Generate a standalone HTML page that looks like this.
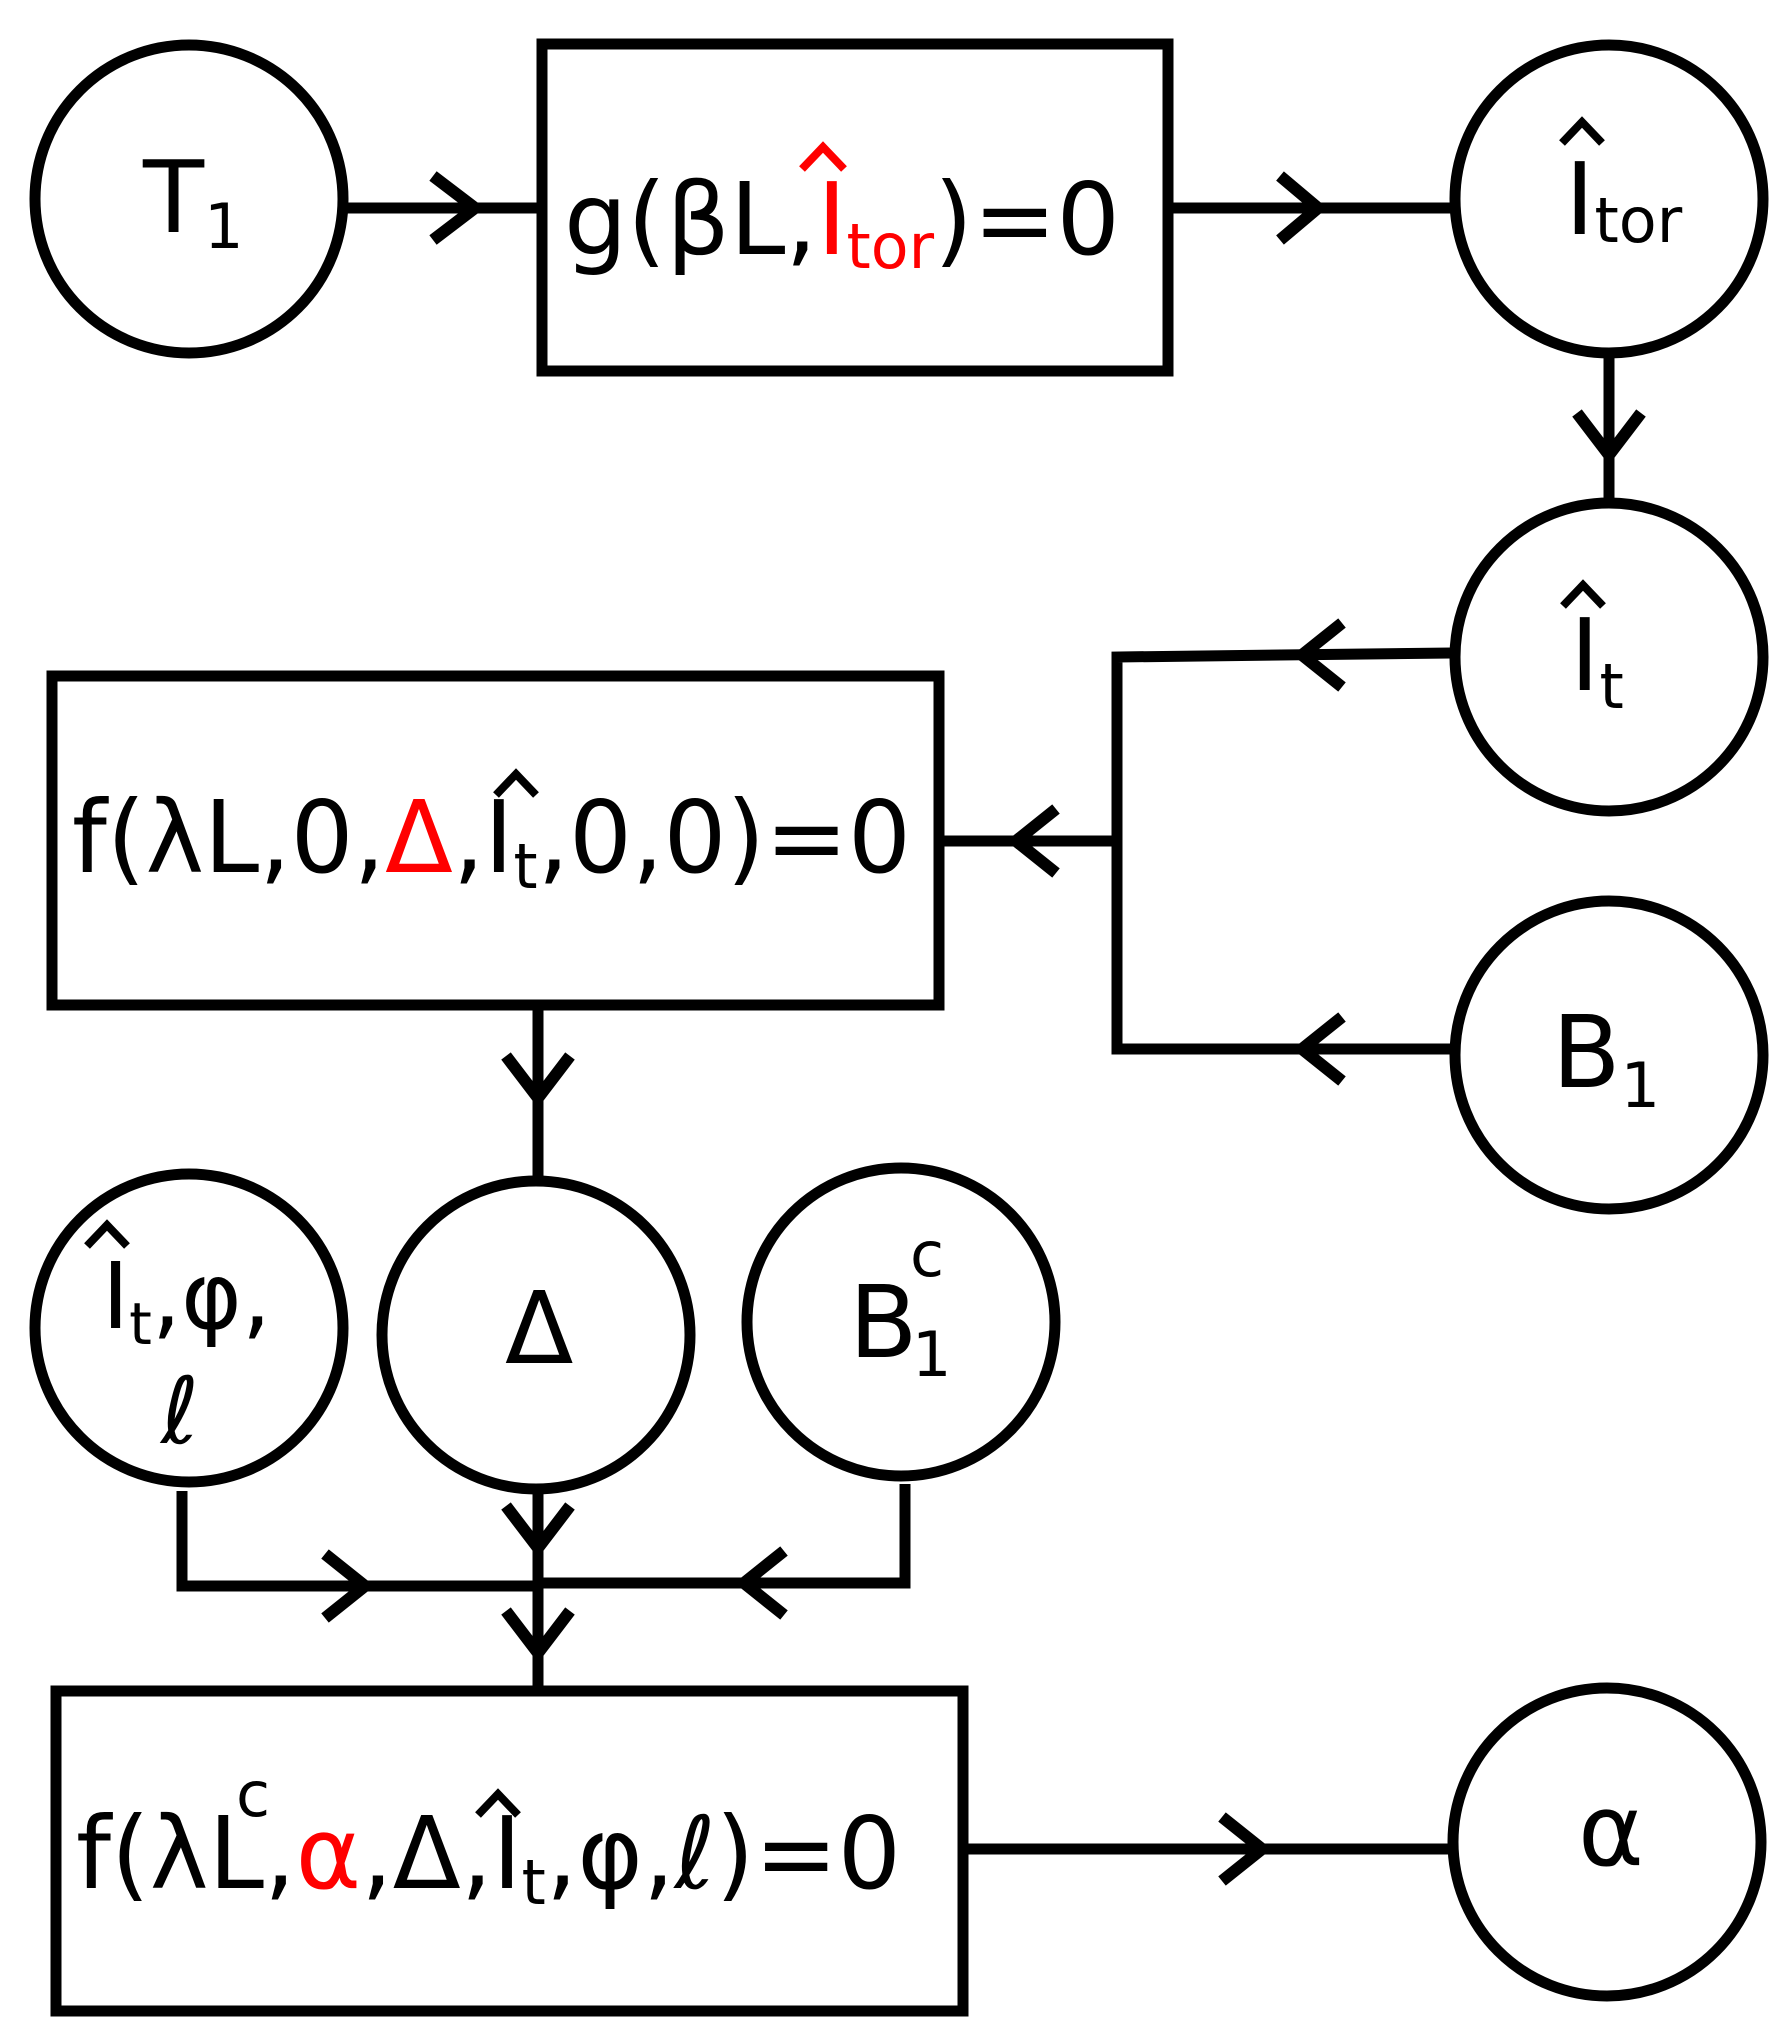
<!DOCTYPE html>
<html><head><meta charset="utf-8"><style>
html,body{margin:0;padding:0;background:#fff}
svg{display:block}
text{font-family:"DejaVu Sans","Liberation Sans",sans-serif;fill:#000}
</style></head><body>
<svg width="1784" height="2040" viewBox="0 0 1784 2040" xmlns="http://www.w3.org/2000/svg">
<g fill="none" stroke="#000" stroke-width="11">
<circle cx="189" cy="199" r="154"/>
<circle cx="1609" cy="199" r="154"/>
<circle cx="1609" cy="657" r="154"/>
<circle cx="1609" cy="1055" r="154"/>
<circle cx="189" cy="1328" r="154"/>
<circle cx="536" cy="1335" r="154"/>
<circle cx="901" cy="1322" r="154"/>
<circle cx="1607" cy="1842" r="154"/>
<rect x="542" y="44" width="626" height="327"/>
<rect x="52" y="676" width="887" height="329"/>
<rect x="56" y="1691" width="907" height="320"/>
<line x1="345" y1="208" x2="542" y2="208"/>
<line x1="1168" y1="208" x2="1452" y2="208"/>
<line x1="1609" y1="355" x2="1609" y2="499"/>
<polyline points="1452,653 1117,657 1117,1049 1452,1049"/>
<line x1="939" y1="841" x2="1117" y2="841"/>
<line x1="538" y1="1005" x2="538" y2="1178"/>
<polyline points="182,1491 182,1586 538,1586"/>
<polyline points="905,1484 905,1583 538,1583"/>
<line x1="538" y1="1491" x2="538" y2="1691"/>
<line x1="963" y1="1849" x2="1448" y2="1849"/>
</g>
<g fill="none" stroke="#000" stroke-width="12">
<polyline points="433,176 475,208 433,240"/>
<polyline points="1280,176 1318,208 1280,240"/>
<polyline points="1577,413 1609,455 1641,413"/>
<polyline points="1342,623 1302,655 1342,687"/>
<polyline points="1342,1017 1302,1049 1342,1081"/>
<polyline points="1056,809 1016,841 1056,873"/>
<polyline points="506,1056 538,1098 570,1056"/>
<polyline points="325,1554 365,1586 325,1618"/>
<polyline points="784,1551 744,1583 784,1615"/>
<polyline points="506,1506 538,1548 570,1506"/>
<polyline points="506,1611 538,1653 570,1611"/>
<polyline points="1222,1817 1262,1849 1222,1881"/>
</g>
<g fill="none" stroke-width="8">
<polyline points="802,169 823,147 844,169" stroke="#f00"/>
<polyline points="1562,143 1582,122 1602,143" stroke="#000"/>
<polyline points="1563,606 1583,585 1603,606" stroke="#000"/>
<polyline points="496,795 516,774 536,795" stroke="#000"/>
<polyline points="87,1246 107,1225 127,1246" stroke="#000"/>
<polyline points="478,1815 498,1794 518,1815" stroke="#000"/>
</g>
<text x="143" y="232" font-size="100">T<tspan font-size="62" dy="16">1</tspan></text>
<text x="564" y="254" font-size="100" textLength="556" lengthAdjust="spacingAndGlyphs">g(βL,<tspan fill="#f00">I<tspan font-size="62" dy="14" fill="#f00">tor</tspan></tspan><tspan dy="-14">)=0</tspan></text>
<text x="1565" y="234" font-size="100">I<tspan font-size="62" dy="8">tor</tspan></text>
<text x="1570" y="690" font-size="100">I<tspan font-size="62" dy="18">t</tspan></text>
<text x="72" y="872" font-size="100" textLength="839" lengthAdjust="spacingAndGlyphs">f(λL,0,<tspan fill="#f00">Δ</tspan>,I<tspan font-size="62" dy="16">t</tspan><tspan dy="-16">,0,0)=0</tspan></text>
<text x="1552" y="1087" font-size="100">B<tspan font-size="62" dy="20">1</tspan></text>
<text x="505" y="1363" font-size="100">Δ</text>
<text x="102" y="1328" font-size="92">I<tspan font-size="58" dy="16">t</tspan><tspan dy="-16">,φ,</tspan></text>
<text x="180" y="1443" font-size="92" text-anchor="middle" font-style="italic">ℓ</text>
<text x="849" y="1357" font-size="100">B</text>
<text x="910" y="1276" font-size="62">c</text>
<text x="912" y="1376" font-size="62">1</text>
<text x="76" y="1888" font-size="100" textLength="825" lengthAdjust="spacingAndGlyphs">f(λL,<tspan fill="#f00">α</tspan>,Δ,I<tspan font-size="62" dy="16">t</tspan><tspan dy="-16">,φ,<tspan font-style="italic">ℓ</tspan>)=0</tspan></text>
<text x="236" y="1816" font-size="62">c</text>
<text x="1578" y="1865" font-size="100">α</text>
</svg>
</body></html>
